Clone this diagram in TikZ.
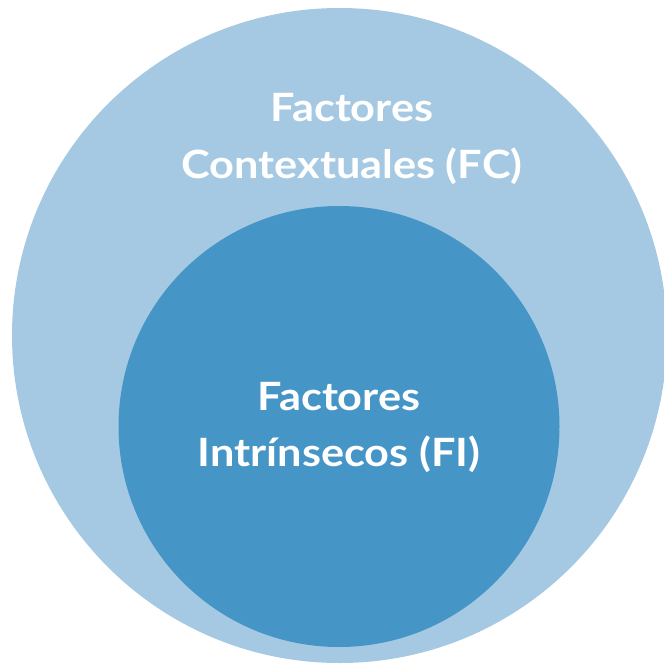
\documentclass[tikz,border=0pt]{standalone}
\usepackage{fontspec}
\setmainfont[FakeStretch=1.11]{Lato}
\definecolor{outerblue}{HTML}{A5C9E2}
\definecolor{innerblue}{HTML}{4595C6}
\begin{document}
\begin{tikzpicture}[x=1bp,y=-1bp,
  lbl/.style={text=white,font=\bfseries\fontsize{39bp}{47bp}\selectfont,anchor=base,inner sep=0pt}]
\useasboundingbox (0,0) rectangle (664,665);
\fill[outerblue] (339.5,335.5) circle[radius=327.5];
\fill[innerblue] (339,426.5) circle[radius=220.5];
\node[lbl] (fc1) at (352,122) {Factores};
\node[lbl] (fc2) at (352,178) {Contextuales (FC)};
\node[lbl] (fi1) at (339,410) {Factores};
\node[lbl] (fi2) at (339,466) {Intrínsecos (FI)};
\end{tikzpicture}
\end{document}
